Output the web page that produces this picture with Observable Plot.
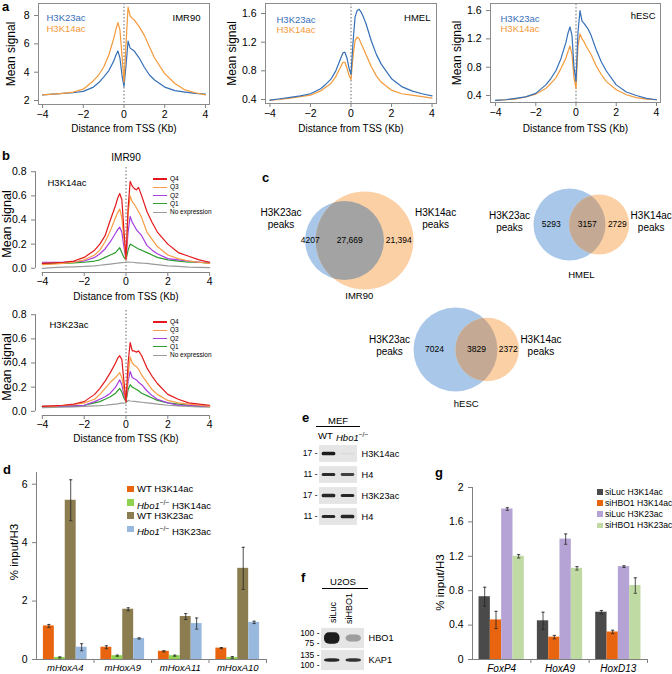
<!DOCTYPE html>
<html><head><meta charset="utf-8">
<script src="https://cdn.jsdelivr.net/npm/d3@7"></script>
<script src="https://cdn.jsdelivr.net/npm/@observablehq/plot@0.6"></script>
<style>
body{margin:0;background:#fff;font-family:"Liberation Sans",Arial,Helvetica,sans-serif;}
#fig{position:relative;width:672px;height:674px;overflow:hidden;background:#fff;}
#fig svg{position:absolute;}
</style></head><body><div id="fig"></div>
<script>
// ---------------- DATA ----------------
const tssX = [-4,-3.5,-3,-2.5,-2,-1.5,-1.25,-1,-0.75,-0.5,-0.4,-0.3,-0.2,-0.1,0,0.1,0.2,0.3,0.4,0.5,0.6,0.75,1,1.25,1.5,2,2.5,3,3.5,4];
const xTicks = [-4,-2,0,2,4];

// panel a : mean signal profiles
const imr90K23 = [2.4,2.45,2.5,2.55,2.65,2.95,3.25,3.65,4.1,4.8,5.2,5.5,5.0,3.8,3.0,4.5,6.2,5.7,5.6,5.5,5.3,5.0,4.35,3.8,3.45,2.95,2.7,2.6,2.5,2.45];
const imr90K14 = [2.4,2.45,2.5,2.6,2.8,3.4,3.8,4.35,5.2,6.4,7.0,7.5,7.0,5.2,3.3,6.0,8.6,8.0,7.8,7.7,7.5,7.2,6.6,5.8,5.0,3.9,3.2,2.75,2.55,2.4];
const hmelK23 = [0.39,0.41,0.43,0.45,0.48,0.55,0.61,0.68,0.8,0.98,1.05,1.06,0.98,0.84,0.75,1.2,1.55,1.64,1.66,1.62,1.56,1.45,1.22,1.03,0.89,0.69,0.58,0.52,0.48,0.45];
const hmelK14 = [0.39,0.4,0.42,0.44,0.46,0.52,0.57,0.62,0.72,0.86,0.92,0.92,0.84,0.74,0.68,1.0,1.22,1.27,1.25,1.18,1.12,1.02,0.86,0.73,0.64,0.53,0.48,0.46,0.44,0.42];
const hescK23 = [0.33,0.34,0.36,0.38,0.43,0.55,0.64,0.75,0.92,1.15,1.28,1.37,1.25,0.8,0.6,1.3,1.6,1.45,1.42,1.38,1.34,1.25,1.05,0.88,0.75,0.55,0.45,0.4,0.36,0.34];
const hescK14 = [0.33,0.34,0.35,0.38,0.42,0.5,0.57,0.65,0.78,0.93,1.02,1.1,0.98,0.65,0.5,1.1,1.27,1.2,1.16,1.1,1.05,0.98,0.82,0.7,0.6,0.48,0.41,0.37,0.35,0.34];

// panel b : expression quartiles (IMR90)
const quartiles = ["Q4","Q3","Q2","Q1","No expression"];
const k14Q4 = [0.04,0.045,0.05,0.06,0.09,0.15,0.2,0.27,0.4,0.52,0.58,0.62,0.57,0.32,0.08,0.5,0.72,0.68,0.66,0.65,0.67,0.6,0.47,0.38,0.3,0.2,0.13,0.1,0.07,0.05];
const k14Q3 = [0.03,0.035,0.04,0.05,0.07,0.11,0.15,0.22,0.31,0.42,0.46,0.49,0.42,0.25,0.07,0.45,0.6,0.55,0.53,0.5,0.47,0.42,0.3,0.24,0.18,0.11,0.08,0.06,0.05,0.04];
const k14Q2 = [0.05,0.05,0.05,0.055,0.06,0.09,0.12,0.16,0.22,0.29,0.32,0.34,0.3,0.18,0.07,0.3,0.43,0.38,0.35,0.32,0.3,0.27,0.19,0.15,0.12,0.08,0.07,0.06,0.05,0.05];
const k14Q1 = [0.04,0.04,0.04,0.045,0.05,0.06,0.07,0.09,0.11,0.13,0.15,0.17,0.13,0.09,0.07,0.15,0.2,0.19,0.18,0.17,0.16,0.15,0.13,0.11,0.09,0.07,0.06,0.05,0.05,0.04];
const k14NoExp = [0.0,0.005,0.01,0.012,0.015,0.02,0.025,0.03,0.035,0.04,0.042,0.045,0.047,0.048,0.05,0.052,0.05,0.05,0.048,0.045,0.044,0.042,0.04,0.035,0.03,0.02,0.015,0.01,0.008,0.005];
const k23Q4 = [0.04,0.045,0.05,0.06,0.08,0.14,0.19,0.25,0.32,0.4,0.44,0.46,0.43,0.25,0.08,0.4,0.57,0.5,0.5,0.49,0.5,0.46,0.36,0.29,0.23,0.14,0.1,0.07,0.06,0.05];
const k23Q3 = [0.04,0.04,0.05,0.055,0.07,0.1,0.14,0.19,0.24,0.28,0.3,0.32,0.28,0.18,0.08,0.3,0.45,0.4,0.38,0.37,0.35,0.3,0.24,0.18,0.14,0.09,0.07,0.06,0.05,0.04];
const k23Q2 = [0.04,0.04,0.045,0.045,0.05,0.08,0.1,0.12,0.15,0.2,0.23,0.26,0.22,0.14,0.08,0.25,0.33,0.28,0.27,0.26,0.24,0.22,0.17,0.13,0.1,0.07,0.05,0.05,0.045,0.04];
const k23Q1 = [0.04,0.04,0.045,0.045,0.05,0.07,0.08,0.1,0.12,0.15,0.17,0.19,0.16,0.11,0.08,0.18,0.22,0.2,0.19,0.18,0.17,0.15,0.13,0.11,0.09,0.07,0.06,0.05,0.045,0.04];
const k23NoExp = [0.03,0.032,0.035,0.037,0.04,0.045,0.047,0.05,0.055,0.06,0.062,0.065,0.067,0.068,0.07,0.09,0.085,0.083,0.082,0.08,0.078,0.075,0.07,0.065,0.06,0.05,0.045,0.04,0.037,0.035];

// panel c : peak overlaps
const vennCells = ["IMR90","HMEL","hESC"];
const vennK23Only = [4207,5293,7024];
const vennBoth = [27669,3157,3829];
const vennK14Only = [21394,2729,2372];

// panel d : MEF ChIP-qPCR
const dGenes = ["mHoxA4","mHoxA9","mHoxA11","mHoxA10"];
const dSeries = ["WT H3K14ac","Hbo1−/− H3K14ac","WT H3K23ac","Hbo1−/− H3K23ac"];
const dWT14 = [1.15,0.42,0.28,0.39];
const dKO14 = [0.07,0.13,0.13,0.07];
const dWT23 = [5.45,1.72,1.47,3.12];
const dKO23 = [0.42,0.72,1.23,1.27];
const dWT14err = [0.05,0.05,0.02,0.02];
const dKO14err = [0.02,0.02,0.02,0.03];
const dWT23err = [0.7,0.05,0.1,0.72];
const dKO23err = [0.12,0.02,0.19,0.04];

// panel e/f : western blots (relative band signal)
const eRows = ["H3K14ac","H4","H3K23ac","H4"];
const eMarkers = ["17","11","17","11"];
const eLanes = ["WT","Hbo1"];
const eSignal = [[1.0,0.05],[0.9,0.8],[0.95,0.92],[0.92,0.95]];
const fRows = ["HBO1","KAP1"];
const fMarkers = [["100","75"],["135","100"]];
const fLanes = ["siLuc","siHBO1"];
const fSignal = [[1.0,0.35],[0.92,0.88]];

// panel g : U2OS ChIP-qPCR
const gGenes = ["FoxP4","HoxA9","HoxD13"];
const gSeries = ["siLuc H3K14ac","siHBO1 H3K14ac","siLuc H3K23ac","siHBO1 H3K23ac"];
const gLuc14 = [0.73,0.45,0.55];
const gHBO14 = [0.46,0.26,0.32];
const gLuc23 = [1.75,1.4,1.08];
const gHBO23 = [1.2,1.06,0.86];
const gLuc14err = [0.11,0.1,0.02];
const gHBO14err = [0.1,0.02,0.02];
const gLuc23err = [0.015,0.06,0.01];
const gHBO23err = [0.02,0.02,0.09];

// ---------------- STYLE / HELPERS ----------------
const FONT = '"Liberation Sans", Arial, Helvetica, sans-serif';
const BLUE = "#3570b8", ORANGE = "#f39a3a";
const qColors = ["#e4191b","#f79c45","#a63ee0","#2e9e2e","#9b9b9b"];
const dColors = ["#e8640f","#8fd150","#8b7d4f","#99b8dd"];
const gColors = ["#4a4a4a","#e8640f","#b4a3d4","#bfdaa3"];
const AX = "#808080";
const fig = document.getElementById("fig");
const baseStyle = {fontFamily: FONT, fontSize: "10px", background: "none", overflow: "visible", color: "#000"};

function put(node, left, top) { node.style.left = left + "px"; node.style.top = top + "px"; fig.appendChild(node); return node; }
function txt(html, x, y, o = {}) {
  const s = o.size || 10;
  const d = document.createElement("div");
  d.innerHTML = html;
  Object.assign(d.style, {position: "absolute", left: x + "px", top: (y - s * 0.6) + "px", fontSize: s + "px",
    lineHeight: (s * 1.2) + "px", whiteSpace: "nowrap", fontWeight: o.bold ? "bold" : "normal",
    fontStyle: o.italic ? "italic" : "normal", color: o.color || "#000", fontFamily: FONT});
  const tx = o.anchor === "middle" ? "-50%" : o.anchor === "end" ? "-100%" : "0";
  d.style.transform = `translateX(${tx})`;
  fig.appendChild(d);
  return d;
}
function vtxt(html, x, yBottom, size) {
  const d = document.createElement("div");
  d.innerHTML = html;
  Object.assign(d.style, {position: "absolute", left: x + "px", top: yBottom + "px", fontSize: size + "px",
    lineHeight: (size * 1.15) + "px", whiteSpace: "nowrap", transformOrigin: "0 0",
    transform: "rotate(-90deg) translateY(-50%)", fontFamily: FONT});
  fig.appendChild(d);
}
function hline(x1, x2, y, color = "#000", w = 1) {
  const d = document.createElement("div");
  Object.assign(d.style, {position: "absolute", left: x1 + "px", top: y + "px", width: (x2 - x1) + "px", height: w + "px", background: color});
  fig.appendChild(d);
}
function swatch(x, y, size, color) {
  const d = document.createElement("div");
  Object.assign(d.style, {position: "absolute", left: x + "px", top: (y - size / 2) + "px", width: size + "px", height: size + "px", background: color});
  fig.appendChild(d);
}
const fmtSeries = s => s.replace("Hbo1−/−", "<i>Hbo1</i><sup style='font-size:70%'>−/−</sup>");
const T = d => d;

// ---------------- PANEL a ----------------
const aSpecs = [
  {name: "IMR90", k23: imr90K23, k14: imr90K14, left: 0, ml: 38, mr: 15, mt: 3, mb: 36, xDom: [-4.2, 4.2], yDom: [1.72, 8.85], yTicks: [2,4,6,8], fmt: d3.format("d"), ylab: -27, lab: [8, 14, 25], tlab: [-9, 14], xlab: 24, dash: {stroke: "#555", strokeDasharray: "1.5,2", strokeWidth: 0.9}},
  {name: "HMEL", k23: hmelK23, k14: hmelK14, left: 224, ml: 41, mr: 12, mt: 3, mb: 37, xDom: [-4.22, 4.22], yDom: [0.344, 1.74], yTicks: [0.4,0.8,1.2,1.6], fmt: d3.format(".1f"), ylab: -33, lab: [11, 16, 26], tlab: [-6, 14], xlab: 25, dash: {stroke: "#555", strokeDasharray: "1.5,2", strokeWidth: 0.9}},
  {name: "hESC", k23: hescK23, k14: hescK14, left: 448, ml: 42, mr: 12, mt: 3, mb: 38, xDom: [-4.25, 4.2], yDom: [0.301, 1.7], yTicks: [0.4,0.8,1.2,1.6], fmt: d3.format(".1f"), ylab: -33, lab: [10, 15, 25], tlab: [-5, 12], xlab: 26, dash: {stroke: "#aaa", strokeDasharray: "2,1.5", strokeWidth: 1.4}}
];
for (const s of aSpecs) {
  const blue = tssX.map((x, i) => ({x, y: s.k23[i]}));
  const orange = tssX.map((x, i) => ({x, y: s.k14[i]}));
  const first = s.name === "IMR90" ? [blue, BLUE] : [orange, ORANGE];
  const second = s.name === "IMR90" ? [orange, ORANGE] : [blue, BLUE];
  const svg = Plot.plot({
    width: 224, height: 140, marginLeft: s.ml, marginRight: s.mr, marginTop: s.mt, marginBottom: s.mb,
    x: {domain: s.xDom}, y: {domain: s.yDom}, style: baseStyle,
    marks: [
      Plot.ruleX([0], s.dash),
      Plot.line(first[0], {x: "x", y: "y", stroke: first[1], strokeWidth: 1.2}),
      Plot.line(second[0], {x: "x", y: "y", stroke: second[1], strokeWidth: 1.2}),
      Plot.frame({stroke: "#8c8c8c"}),
      Plot.axisX({ticks: xTicks, tickSize: 4, tickPadding: 2, label: null, stroke: AX, fontSize: 10.5}),
      Plot.axisY({ticks: s.yTicks, tickSize: 4, tickFormat: s.fmt, label: null, stroke: AX, fontSize: 10.5}),
      Plot.text(["Mean signal"], {text: T, frameAnchor: "left", textAnchor: "middle", lineAnchor: "middle", rotate: -90, dx: s.ylab, fontSize: 12}),
      Plot.text(["Distance from TSS (Kb)"], {text: T, frameAnchor: "bottom", lineAnchor: "middle", dy: s.xlab, fontSize: 10}),
      Plot.text(["H3K23ac"], {text: T, frameAnchor: "top-left", textAnchor: "start", lineAnchor: "middle", dx: s.lab[0], dy: s.lab[1], fill: BLUE, fontSize: 9.5}),
      Plot.text(["H3K14ac"], {text: T, frameAnchor: "top-left", textAnchor: "start", lineAnchor: "middle", dx: s.lab[0], dy: s.lab[2], fill: ORANGE, fontSize: 9.5}),
      Plot.text([s.name], {text: T, frameAnchor: "top-right", textAnchor: "end", lineAnchor: "middle", dx: s.tlab[0], dy: s.tlab[1], fontSize: 9.5})
    ]
  });
  put(svg, s.left, 0);
}

// ---------------- PANEL b ----------------
const bSpecs = [
  {top: 150, height: 150, mt: 17, mb: 28, mark: "H3K14ac", series: [k14Q4, k14Q3, k14Q2, k14Q1, k14NoExp], title: "IMR90", lab: [12, 15], xlab: 24, legendY: 179},
  {top: 300, height: 145, mt: 10, mb: 30, mark: "H3K23ac", series: [k23Q4, k23Q3, k23Q2, k23Q1, k23NoExp], title: null, lab: [14, 14], xlab: 23, legendY: 322}
];
for (const s of bSpecs) {
  const lines = quartiles.map((q, qi) => ({q, qi, pts: tssX.map((x, i) => ({x, y: s.series[qi][i]}))})).reverse();
  const marks = [
    Plot.ruleX([0], {stroke: "#555", strokeDasharray: "1.5,2", strokeWidth: 0.9}),
    ...lines.map(L => Plot.line(L.pts, {x: "x", y: "y", stroke: qColors[L.qi], strokeWidth: 1.2})),
    Plot.ruleY([-0.035], {x1: -4, x2: 4, stroke: AX}),
    Plot.ruleX([-4.33], {y1: 0, y2: 0.8, stroke: AX}),
    Plot.axisX({ticks: xTicks, tickSize: 4, tickPadding: 1, label: null, stroke: AX, fontSize: 10.5}),
    Plot.axisY({ticks: [0,0.2,0.4,0.6,0.8], tickSize: 4, tickFormat: d3.format(".1f"), label: null, stroke: AX, fontSize: 10.5}),
    Plot.text(["Mean signal"], {text: T, frameAnchor: "left", textAnchor: "middle", lineAnchor: "middle", rotate: -90, dx: -29, dy: 4, fontSize: 12.5}),
    Plot.text(["Distance from TSS (Kb)"], {text: T, frameAnchor: "bottom", lineAnchor: "middle", dy: s.xlab, fontSize: 10}),
    Plot.text([s.mark], {text: T, frameAnchor: "top-left", textAnchor: "start", lineAnchor: "middle", dx: s.lab[0], dy: s.lab[1], fontSize: 9.5})
  ];
  if (s.title) marks.push(Plot.text([s.title], {text: T, frameAnchor: "top", lineAnchor: "middle", dy: -10, fontSize: 10}));
  const svg = Plot.plot({
    width: 224, height: s.height, marginLeft: 35, marginRight: 8, marginTop: s.mt, marginBottom: s.mb,
    x: {domain: [-4.33, 4.33]}, y: {domain: [-0.035, 0.835]}, style: baseStyle, marks
  });
  put(svg, 0, s.top);
  quartiles.forEach((q, qi) => {
    const y = s.legendY + qi * 8.3;
    hline(153, 167, y - 0.6, qColors[qi], 1.2);
    txt(q, 170, y, {size: 6.5});
  });
}

// ---------------- PANEL c (Venn) ----------------
const vennStyle = [
  {cx: 344, cy: 240, rMax: 49, labelDy: -22, nameGap: 6, overlap: "#a3a3a3"},
  {cx: 569, cy: 224, rMax: 36, labelDy: -3, nameGap: 14, overlap: "#c4aa95"},
  {cx: 455, cy: 349, rMax: 42, labelDy: -4, nameGap: 12, overlap: "#c4aa95"}
];
function lensArea(r1, r2, d) {
  if (d >= r1 + r2) return 0;
  if (d <= Math.abs(r1 - r2)) return Math.PI * Math.min(r1, r2) ** 2;
  const a = r1 * r1 * Math.acos((d * d + r1 * r1 - r2 * r2) / (2 * d * r1));
  const b = r2 * r2 * Math.acos((d * d + r2 * r2 - r1 * r1) / (2 * d * r2));
  const c = 0.5 * Math.sqrt((-d + r1 + r2) * (d + r1 - r2) * (d - r1 + r2) * (d + r1 + r2));
  return a + b - c;
}
const venn = vennCells.map((name, i) => {
  const s = vennStyle[i];
  const nB = vennK23Only[i] + vennBoth[i], nO = vennK14Only[i] + vennBoth[i];
  const k = s.rMax / Math.sqrt(Math.max(nB, nO));
  const rB = k * Math.sqrt(nB), rO = k * Math.sqrt(nO);
  const target = k * k * Math.PI * vennBoth[i];
  let lo = Math.abs(rB - rO) + 1e-6, hi = rB + rO;
  for (let t = 0; t < 60; t++) { const m = (lo + hi) / 2; if (lensArea(rB, rO, m) > target) lo = m; else hi = m; }
  const dd = (lo + hi) / 2;
  return {name, i, bx: s.cx, by: s.cy, rB, ox: s.cx + dd, oy: s.cy, rO, s};
});
const fmtN = n => n >= 10000 ? d3.format(",")(n) : String(n);
const vennSvg = Plot.plot({
  width: 448, height: 250, margin: 0,
  x: {domain: [224, 672], range: [0, 448], axis: null},
  y: {domain: [160, 410], range: [0, 250], axis: null},
  r: {type: "linear", domain: [0, 100], range: [0, 100]},
  color: {type: "identity"},
  style: baseStyle,
  marks: [
    Plot.dot(venn, {x: "bx", y: "by", r: "rB", fill: "#a9c8e9", sort: null}),
    Plot.dot(venn, {x: "ox", y: "oy", r: "rO", fill: "#fcd0a5", sort: null}),
    Plot.dot(venn, {x: "ox", y: "oy", r: "rO", fill: v => v.s.overlap, sort: null}),
    Plot.text(venn, {x: v => ((v.bx - v.rB) + (v.ox - v.rO)) / 2, y: "by", text: v => fmtN(vennK23Only[v.i]), fontSize: 8.5}),
    Plot.text(venn, {x: v => ((v.ox - v.rO) + (v.bx + v.rB)) / 2, y: "by", text: v => fmtN(vennBoth[v.i]), fontSize: 8.5}),
    Plot.text(venn, {x: v => ((v.bx + v.rB) + (v.ox + v.rO)) / 2, y: "by", text: v => fmtN(vennK14Only[v.i]), fontSize: 8.5}),
    Plot.text(venn, {x: v => v.bx - v.rB, y: v => v.by + v.s.labelDy, text: () => "H3K23ac\npeaks", dx: -24, lineHeight: 1.15, fontSize: 10}),
    Plot.text(venn, {x: v => v.ox + v.rO, y: v => v.oy + v.s.labelDy, text: () => "H3K14ac\npeaks", dx: 22, lineHeight: 1.15, fontSize: 10}),
    Plot.text(venn, {x: v => ((v.bx - v.rB) + (v.ox + v.rO)) / 2, y: v => v.by + Math.max(v.rB, v.rO) + v.s.nameGap, text: "name", fontSize: 9.5})
  ]
});
{
  const ns = "http://www.w3.org/2000/svg";
  const groups = vennSvg.querySelectorAll('g[aria-label="dot"]');
  const blues = groups[0].querySelectorAll("circle, path");
  const ovs = groups[2].querySelectorAll("circle, path");
  const defs = document.createElementNS(ns, "defs");
  vennSvg.appendChild(defs);
  blues.forEach((b, i) => {
    const cp = document.createElementNS(ns, "clipPath");
    cp.setAttribute("id", "vclip" + i);
    cp.appendChild(b.cloneNode());
    defs.appendChild(cp);
    if (ovs[i]) ovs[i].setAttribute("clip-path", `url(#vclip${i})`);
  });
}
put(vennSvg, 224, 160);

// ---------------- PANELS d, g ----------------
const dMeans = [dWT14, dKO14, dWT23, dKO23];
const dErrs = [dWT14err, dKO14err, dWT23err, dKO23err];
const dRows = dGenes.flatMap((g, gi) => dSeries.map((s, si) => ({gene: g, gi, series: s, si, v: dMeans[si][gi], e: dErrs[si][gi]})));
const gMeans = [gLuc14, gHBO14, gLuc23, gHBO23];
const gErrs = [gLuc14err, gHBO14err, gLuc23err, gHBO23err];
const gRows = gGenes.flatMap((g, gi) => gSeries.map((s, si) => ({gene: g, gi, series: s, si, v: gMeans[si][gi], e: gErrs[si][gi]})));

function barChart({rows, genes, series, colors, width, height, ml, mr, mt, mb, yMax, yTicks, bw, catSize, ylabDy, ylabDx}) {
  const cx = r => r.gi + 0.5 + (r.si - 1.5) * bw;
  const cap = 0.028;
  return Plot.plot({
    width, height, marginLeft: ml, marginRight: mr, marginTop: mt, marginBottom: mb,
    x: {domain: [0, genes.length]}, y: {domain: [0, yMax]},
    color: {domain: series, range: colors},
    style: baseStyle,
    marks: [
      Plot.rect(rows, {x1: r => cx(r) - bw / 2, x2: r => cx(r) + bw / 2, y1: 0, y2: "v", fill: "series"}),
      Plot.ruleX(rows, {x: cx, y1: r => r.v - r.e, y2: r => r.v + r.e, stroke: "#222", strokeWidth: 0.8}),
      Plot.link(rows, {x1: r => cx(r) - cap, x2: r => cx(r) + cap, y1: r => r.v + r.e, y2: r => r.v + r.e, stroke: "#222", strokeWidth: 0.8}),
      Plot.link(rows, {x1: r => cx(r) - cap, x2: r => cx(r) + cap, y1: r => r.v - r.e, y2: r => r.v - r.e, stroke: "#222", strokeWidth: 0.8}),
      Plot.ruleY([0], {stroke: AX}),
      Plot.ruleX([0], {y1: 0, y2: yMax, stroke: AX}),
      Plot.axisY({ticks: yTicks, tickSize: 4, tickFormat: t => String(t), label: null, stroke: AX, fontSize: 10.5}),
      Plot.axisX({ticks: genes.map((g, i) => i + 0.5), tickSize: 0, tickPadding: 5, tickFormat: t => genes[Math.floor(t)], fontStyle: "italic", label: null, fontSize: catSize}),
      Plot.axisX({ticks: d3.range(1, genes.length + 1), tickSize: 4, tickFormat: () => "", label: null, stroke: AX}),
      Plot.text(["% input/H3"], {text: T, frameAnchor: "left", textAnchor: "middle", lineAnchor: "middle", rotate: -90, dx: ylabDx, dy: ylabDy, fontSize: 11.5})
    ]
  });
}
put(barChart({rows: dRows, genes: dGenes, series: dSeries, colors: dColors, width: 275, height: 214, ml: 36, mr: 9, mt: 12, mb: 15, yMax: 6.4, yTicks: [0,2,4,6], bw: 0.19, catSize: 9.5, ylabDy: -14, ylabDx: -22}), 0, 460);
dSeries.forEach((s, i) => { const y = 489 + i * 13.3; swatch(127, y, 6.5, dColors[i]); txt(fmtSeries(s), 137, y, {size: 9.5}); });

put(barChart({rows: gRows, genes: gGenes, series: gSeries, colors: gColors, width: 252, height: 214, ml: 52, mr: 25, mt: 27, mb: 15, yMax: 2, yTicks: [0,0.4,0.8,1.2,1.6,2], bw: 0.194, catSize: 10, ylabDy: 9, ylabDx: -32}), 420, 460);
gSeries.forEach((s, i) => { const y = 492 + i * 11.1; swatch(597, y, 5.5, gColors[i]); txt(s, 605, y, {size: 8.6}); });

// ---------------- PANEL e / f (blots) ----------------
function blot({rows, markers, signal, width, height, xr, yr, boxInset, bandHalf, markerPos, rx, id}) {
  const idx = d3.range(rows.length);
  const cells = idx.flatMap(i => signal[i].map((v, j) => ({i, j, v})));
  const markerData = idx.flatMap(i => markers[i].map((m, k) => ({i, m, p: markerPos[k]})));
  const svg = Plot.plot({
    width, height, margin: 0,
    x: {domain: [0, 2], range: xr, axis: null},
    y: {domain: [0, rows.length], range: yr, axis: null},
    opacity: {domain: [0, 1], range: [0, 1]},
    style: baseStyle,
    marks: [
      Plot.rect(idx, {x1: 0, x2: 2, y1: i => i + boxInset, y2: i => i + 1 - boxInset, fill: "#e5e5e5"}),
      Plot.rect(cells, {x1: c => c.j + 0.14, x2: c => c.j + 0.86, y1: c => c.i + 0.5 - bandHalf[c.i] * (0.4 + 0.6 * c.v), y2: c => c.i + 0.5 + bandHalf[c.i] * (0.4 + 0.6 * c.v), fill: "#1a1a1a", fillOpacity: "v", rx}),
      Plot.text(markerData, {x: 0, y: d => d.i + d.p, text: d => d.m + " -", textAnchor: "end", dx: -2, fontSize: 8.5}),
      Plot.text(idx, {x: 2, y: i => i + 0.5, text: i => rows[i], textAnchor: "start", dx: 4, fontSize: 9.2})
    ]
  });
  const ns = "http://www.w3.org/2000/svg";
  const defs = document.createElementNS(ns, "defs");
  defs.innerHTML = '<filter id="blur' + id + '" x="-20%" y="-80%" width="140%" height="260%"><feGaussianBlur stdDeviation="0.6"/></filter>';
  svg.appendChild(defs);
  const rg = svg.querySelectorAll('g[aria-label="rect"]');
  if (rg[1]) rg[1].setAttribute("filter", `url(#blur${id})`);
  return svg;
}
put(blot({rows: eRows, markers: eMarkers.map(m => [m]), signal: eSignal, width: 110, height: 95, xr: [29, 67], yr: [3, 87], boxInset: 0.1, bandHalf: [0.08, 0.08, 0.08, 0.08], markerPos: [0.45], rx: 1.5, id: "e"}), 290, 440);
put(blot({rows: fRows, markers: fMarkers, signal: fSignal, width: 110, height: 54, xr: [31, 74], yr: [7, 51], boxInset: 0.04, bandHalf: [0.26, 0.08], markerPos: [0.28, 0.7], rx: 5, id: "f"}), 290, 620);

// headers e
txt("MEF", 338, 421, {size: 9.5, anchor: "middle"});
hline(316, 360, 426, "#000", 0.8);
txt("WT", 318, 436, {size: 9.5});
txt("<i>Hbo1</i><sup style='font-size:70%'>−/−</sup>", 336, 435, {size: 9.5});
// headers f
txt("U2OS", 343, 582, {size: 9.5, anchor: "middle"});
hline(322, 368, 588, "#000", 0.8);
vtxt(fLanes[0], 333, 623, 9);
vtxt(fLanes[1], 349, 624, 9);

// panel letters
[["a", 2, 7], ["b", 2, 156], ["c", 262, 178], ["d", 3, 470], ["e", 302, 418], ["f", 301, 578], ["g", 435, 473]].forEach(([l, x, y]) => txt(l, x, y, {size: 13, bold: true}));
</script></body></html>
